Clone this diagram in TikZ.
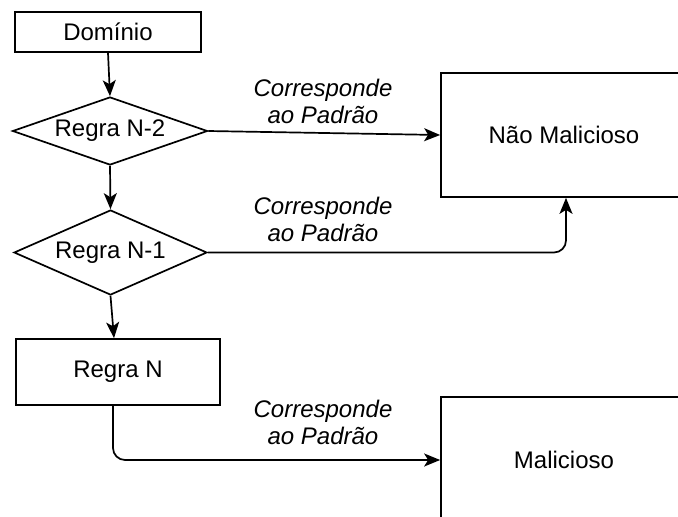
\documentclass[tikz,border=0pt]{standalone}
\usepackage{fontspec}
\setmainfont{Liberation Sans}
\usetikzlibrary{shapes.geometric,arrows.meta}

\tikzset{
  base/.style={draw=black, line width=1.7pt, inner sep=0pt,
               font=\fontsize{24}{27}\selectfont},
  stepbox/.style={base, rectangle},
  decision/.style={base, diamond},
  flow/.style={draw=black, line width=1.7pt,
               -{Stealth[length=16pt,width=13pt,inset=4pt]}},
  lbl/.style={inner sep=0pt, align=center,
              font=\fontsize{24}{27}\selectfont\itshape}
}

\begin{document}
\begin{tikzpicture}[x=1pt,y=-1pt]
  \useasboundingbox (0,0) rectangle (678,517);
  \clip (0,0) rectangle (678,517);

  % left column: domain, rules
  \node[stepbox, minimum width=186pt, minimum height=40pt] (dom) at (108,32) {Domínio};
  \node[decision, shape aspect=2.87, minimum width=195pt, minimum height=68pt] (r2) at (110,131) {Regra N-2};
  \node[decision, shape aspect=2.27, minimum width=193pt, minimum height=85pt] (r1) at (110.5,252.5) {Regra N-1};
  \node[stepbox, minimum width=204pt, minimum height=66pt] (rn) at (118,372) {Regra N};

  % right column: outcomes
  \node[stepbox, minimum width=246pt, minimum height=124pt] (ok) at (564,135) {Não Malicioso};
  \node[stepbox, minimum width=246pt, minimum height=126pt] (bad) at (564,460) {Malicioso};

  % connectors
  \draw[flow] (dom.south) -- (r2.north);
  \draw[flow] (r2.south) -- (r1.north);
  \draw[flow] (r1.south) -- ([xshift=-4pt]rn.north);
  \draw[flow] (r2.east) -- (ok.west);
  \draw[flow, rounded corners=12pt] (r1.east) -| ([xshift=2pt]ok.south);
  \draw[flow, rounded corners=12pt] ([xshift=-5pt]rn.south) |- (bad.west);

  % edge labels
  \node[lbl] (l2) at (323,101) {Corresponde\\ao Padrão};
  \node[lbl] (l1) at (323,219) {Corresponde\\ao Padrão};
  \node[lbl] (l0) at (323,422) {Corresponde\\ao Padrão};
\end{tikzpicture}
\end{document}
